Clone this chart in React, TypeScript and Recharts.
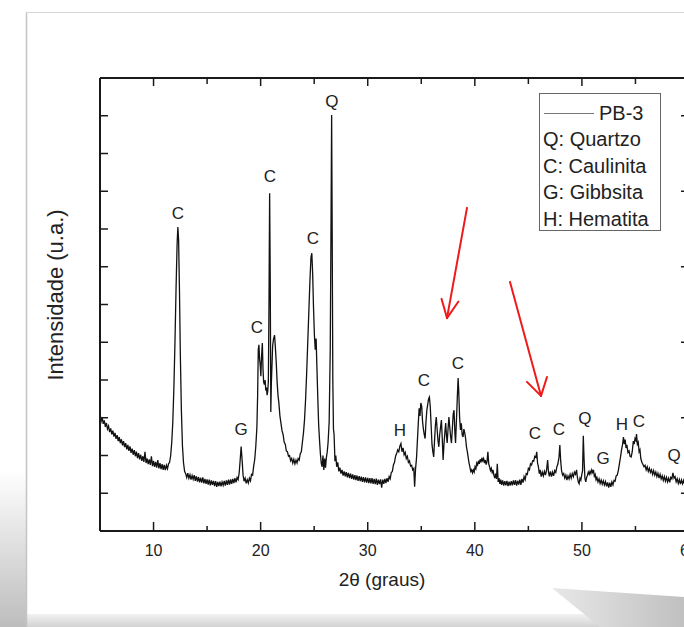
import React from 'react';
import { ComposedChart, Line, XAxis, YAxis, ReferenceLine, Scatter } from 'recharts';

// 2θ (degrees), intensity (arbitrary units)
const segLowAngle: [number, number][] = [
  [5.0, 3.0], [5.1, 2.9], [5.2, 3.02], [5.3, 2.84], [5.4, 2.93], [5.5, 2.76], [5.6, 2.86], [5.7, 2.7], [5.8, 2.78], [5.9, 2.62],
  [6.0, 2.72], [6.1, 2.56], [6.2, 2.66], [6.3, 2.5], [6.4, 2.6], [6.5, 2.44], [6.6, 2.54], [6.7, 2.38], [6.8, 2.49], [6.9, 2.33],
  [7.0, 2.43], [7.1, 2.27], [7.2, 2.38], [7.3, 2.22], [7.4, 2.33], [7.5, 2.16], [7.6, 2.28], [7.7, 2.12], [7.8, 2.24], [7.9, 2.07],
  [8.0, 2.18], [8.1, 2.02], [8.2, 2.14], [8.3, 1.98], [8.4, 2.1], [8.5, 1.93], [8.6, 2.06], [8.7, 1.9], [8.8, 2.02], [8.9, 1.86],
  [9.0, 1.98], [9.1, 1.83], [9.2, 2.1], [9.3, 1.8], [9.4, 1.92], [9.5, 1.77], [9.6, 1.9], [9.7, 1.75], [9.8, 1.98], [9.9, 1.72],
  [10.0, 1.86], [10.1, 1.7], [10.2, 1.83], [10.3, 1.68], [10.4, 1.88], [10.5, 1.66], [10.6, 1.8], [10.7, 1.64], [10.8, 1.77], [10.9, 1.62],
  [11.0, 1.75], [11.1, 1.61], [11.2, 1.74], [11.3, 1.65], [11.4, 1.78], [11.5, 1.82],
];
const segKaolinite12: [number, number][] = [
  [11.6, 2.0], [11.7, 2.35], [11.8, 2.9], [11.9, 3.8], [12.0, 5.0], [12.1, 6.4], [12.2, 7.6], [12.27, 8.05], [12.34, 7.7],
  [12.42, 6.4], [12.5, 4.7], [12.6, 3.2], [12.7, 2.25], [12.8, 1.8], [12.9, 1.58], [13.0, 1.52],
];
const segFlat13to19: [number, number][] = [
  [13.1, 1.42], [13.2, 1.53], [13.3, 1.4], [13.4, 1.49], [13.5, 1.36], [13.6, 1.47], [13.7, 1.37], [13.8, 1.48], [13.9, 1.33],
  [14.0, 1.45], [14.1, 1.31], [14.2, 1.43], [14.3, 1.29], [14.4, 1.41], [14.5, 1.28], [14.6, 1.42], [14.7, 1.26], [14.8, 1.38], [14.9, 1.25],
  [15.0, 1.37], [15.1, 1.23], [15.2, 1.36], [15.3, 1.21], [15.4, 1.34], [15.5, 1.22], [15.6, 1.33], [15.7, 1.19], [15.8, 1.32], [15.9, 1.17],
  [16.0, 1.3], [16.1, 1.19], [16.2, 1.31], [16.3, 1.18], [16.4, 1.3], [16.5, 1.21], [16.6, 1.33], [16.7, 1.2], [16.8, 1.34], [16.9, 1.22],
  [17.0, 1.36], [17.1, 1.23], [17.2, 1.37], [17.3, 1.25], [17.4, 1.38], [17.5, 1.27], [17.6, 1.4], [17.7, 1.29], [17.8, 1.42], [17.9, 1.36],
  [18.0, 1.55], [18.1, 1.92], [18.18, 2.24], [18.27, 1.88], [18.36, 1.48], [18.45, 1.32], [18.55, 1.4], [18.65, 1.26], [18.75, 1.36],
  [18.85, 1.27], [18.95, 1.4], [19.05, 1.33], [19.15, 1.5], [19.25, 1.48], [19.35, 1.72], [19.45, 1.9], [19.55, 2.25], [19.65, 2.75],
];
const segKaolinite20to25: [number, number][] = [
  [19.72, 3.6], [19.78, 4.8], [19.84, 4.93], [19.9, 4.55], [19.96, 4.4], [20.02, 4.1], [20.08, 4.6], [20.16, 4.98], [20.22, 4.3],
  [20.28, 3.95], [20.35, 3.88], [20.42, 4.0], [20.48, 3.72], [20.55, 3.8], [20.6, 3.6], [20.66, 3.7], [20.72, 3.95], [20.78, 6.0],
  [20.84, 8.95], [20.9, 6.5], [20.95, 3.15], [21.0, 3.9], [21.06, 4.4], [21.12, 4.9], [21.2, 5.08], [21.3, 5.19], [21.38, 4.85],
  [21.46, 4.45], [21.54, 3.95], [21.62, 3.6], [21.7, 3.4], [21.8, 3.05], [21.9, 2.85], [22.0, 2.65], [22.1, 2.55], [22.2, 2.35],
  [22.3, 2.3], [22.4, 2.12], [22.5, 2.1], [22.6, 1.98], [22.7, 2.0], [22.8, 1.86], [22.9, 1.92], [23.0, 1.8], [23.1, 1.9], [23.2, 1.78],
  [23.3, 1.88], [23.4, 1.8], [23.5, 1.92], [23.6, 1.88], [23.7, 2.05], [23.8, 2.1], [23.9, 2.35], [24.0, 2.6], [24.1, 2.95], [24.2, 3.5],
  [24.3, 4.2], [24.4, 5.0], [24.5, 5.8], [24.6, 6.6], [24.7, 7.25], [24.78, 7.36], [24.86, 6.8], [24.94, 5.9], [25.02, 5.2], [25.1, 4.8],
  [25.18, 5.1], [25.26, 4.3], [25.34, 3.5], [25.42, 2.8], [25.5, 2.4], [25.58, 2.05], [25.66, 1.8], [25.74, 1.7], [25.82, 2.0],
  [25.9, 1.62], [25.98, 1.92], [26.06, 1.68], [26.14, 1.95], [26.22, 2.1], [26.3, 2.35], [26.4, 2.9],
];
const segQuartz26: [number, number][] = [
  [26.5, 4.8], [26.58, 8.5], [26.63, 11.02], [26.68, 8.0], [26.74, 4.0], [26.8, 2.7], [26.86, 2.55], [26.94, 1.85], [27.02, 2.0],
];
const segFlat27to34: [number, number][] = [
  [27.1, 1.7], [27.2, 1.82], [27.3, 1.58], [27.4, 1.68], [27.5, 1.52], [27.6, 1.62], [27.7, 1.47], [27.8, 1.58], [27.9, 1.45],
  [28.0, 1.56], [28.1, 1.42], [28.2, 1.54], [28.3, 1.4], [28.4, 1.52], [28.5, 1.38], [28.6, 1.5], [28.7, 1.36], [28.8, 1.48], [28.9, 1.35],
  [29.0, 1.47], [29.1, 1.33], [29.2, 1.45], [29.3, 1.32], [29.4, 1.44], [29.5, 1.3], [29.6, 1.43], [29.7, 1.29], [29.8, 1.42], [29.9, 1.28],
  [30.0, 1.41], [30.1, 1.27], [30.2, 1.4], [30.3, 1.26], [30.4, 1.4], [30.5, 1.25], [30.6, 1.38], [30.7, 1.24], [30.8, 1.39], [30.9, 1.22],
  [31.0, 1.36], [31.1, 1.24], [31.2, 1.37], [31.3, 1.15], [31.4, 1.36], [31.5, 1.25], [31.6, 1.38], [31.7, 1.27], [31.8, 1.4], [31.9, 1.3],
  [32.0, 1.44], [32.1, 1.38], [32.2, 1.55], [32.3, 1.58], [32.4, 1.75], [32.5, 1.82], [32.6, 1.98], [32.7, 2.05], [32.8, 2.15], [32.9, 2.1],
  [33.0, 2.25], [33.1, 2.32], [33.2, 2.1], [33.3, 2.2], [33.4, 2.02], [33.5, 2.08], [33.6, 1.92], [33.7, 1.98], [33.8, 1.82], [33.9, 1.86],
  [34.0, 1.72], [34.1, 1.74], [34.2, 1.62], [34.3, 1.66], [34.38, 1.17], [34.46, 1.62], [34.56, 1.95],
];
const segKaolinite35to39: [number, number][] = [
  [34.64, 2.4], [34.72, 2.85], [34.8, 3.25], [34.88, 3.05], [34.96, 3.39], [35.04, 3.3], [35.12, 2.9], [35.2, 2.7], [35.28, 2.55],
  [35.36, 2.45], [35.44, 2.9], [35.52, 3.2], [35.6, 3.35], [35.68, 3.5], [35.76, 3.55], [35.84, 3.3], [35.92, 2.8], [36.0, 2.3],
  [36.08, 2.1], [36.16, 1.96], [36.24, 2.4], [36.32, 2.8], [36.4, 3.02], [36.48, 2.7], [36.56, 2.4], [36.64, 2.23], [36.72, 2.55],
  [36.8, 2.75], [36.88, 2.94], [36.96, 2.45], [37.04, 1.88], [37.12, 2.3], [37.2, 2.6], [37.28, 2.86], [37.36, 2.5], [37.42, 2.33],
  [37.5, 2.7], [37.58, 3.02], [37.66, 2.75], [37.74, 2.5], [37.82, 2.33], [37.9, 2.7], [37.98, 3.1], [38.06, 3.2], [38.14, 2.6],
  [38.2, 2.33], [38.28, 2.9], [38.36, 3.5], [38.44, 4.05], [38.5, 3.7], [38.58, 3.0], [38.66, 2.68], [38.74, 2.85], [38.82, 2.55],
  [38.9, 2.49], [38.98, 2.7], [39.06, 2.6], [39.14, 2.45], [39.22, 2.23], [39.3, 2.1], [39.38, 1.95], [39.46, 1.8], [39.54, 1.7],
];
const segMid40to45: [number, number][] = [
  [39.62, 1.58], [39.7, 1.62], [39.78, 1.54], [39.86, 1.62], [39.94, 1.56], [40.02, 1.7], [40.1, 1.65], [40.18, 1.8], [40.26, 1.75],
  [40.34, 1.86], [40.42, 1.78], [40.5, 1.9], [40.58, 1.82], [40.66, 1.94], [40.74, 1.86], [40.82, 1.92], [40.9, 1.8], [40.98, 1.88],
  [41.06, 1.76], [41.14, 1.84], [41.22, 2.1], [41.3, 1.78], [41.38, 1.7], [41.46, 1.6], [41.54, 1.66], [41.62, 1.55], [41.7, 1.62],
  [41.78, 1.48], [41.86, 1.4], [41.94, 1.52], [42.02, 1.38], [42.1, 1.78], [42.18, 1.3], [42.26, 1.4], [42.34, 1.25], [42.42, 1.36],
  [42.5, 1.22], [42.6, 1.34], [42.7, 1.2], [42.8, 1.32], [42.9, 1.21], [43.0, 1.33], [43.1, 1.19], [43.2, 1.31], [43.3, 1.2],
  [43.4, 1.32], [43.5, 1.21], [43.6, 1.34], [43.7, 1.22], [43.8, 1.35], [43.9, 1.2], [44.0, 1.33], [44.1, 1.23], [44.2, 1.36],
  [44.3, 1.22], [44.4, 1.38], [44.5, 1.28], [44.6, 1.44], [44.7, 1.36], [44.8, 1.52], [44.9, 1.5], [45.0, 1.66], [45.1, 1.62],
];
const segHigh45to53: [number, number][] = [
  [45.2, 1.78], [45.3, 1.75], [45.4, 1.86], [45.5, 1.85], [45.6, 1.98], [45.7, 1.95], [45.78, 2.1], [45.86, 1.8], [45.94, 1.7],
  [46.02, 1.52], [46.1, 1.62], [46.2, 1.44], [46.3, 1.56], [46.4, 1.46], [46.5, 1.58], [46.6, 1.48], [46.7, 1.62], [46.8, 1.88],
  [46.88, 1.55], [46.96, 1.45], [47.06, 1.58], [47.16, 1.44], [47.26, 1.56], [47.36, 1.46], [47.46, 1.6], [47.56, 1.55], [47.66, 1.7],
  [47.76, 1.78], [47.86, 1.95], [47.94, 2.28], [48.02, 1.85], [48.1, 1.6], [48.2, 1.48], [48.3, 1.52], [48.4, 1.4], [48.5, 1.48],
  [48.6, 1.35], [48.7, 1.46], [48.8, 1.38], [48.9, 1.5], [49.0, 1.4], [49.1, 1.52], [49.2, 1.44], [49.3, 1.56], [49.4, 1.5], [49.5, 1.62],
  [49.58, 1.42], [49.66, 1.3], [49.74, 1.25], [49.82, 1.4], [49.9, 1.35], [49.98, 1.48], [50.06, 1.6], [50.13, 2.52], [50.2, 1.9],
  [50.28, 1.4], [50.36, 1.3], [50.44, 1.42], [50.52, 1.48], [50.6, 1.56], [50.68, 1.5], [50.76, 1.58], [50.84, 1.52], [50.92, 1.62],
  [51.0, 1.55], [51.08, 1.62], [51.16, 1.45], [51.24, 1.5], [51.32, 1.36], [51.4, 1.42], [51.5, 1.3], [51.6, 1.38], [51.7, 1.26],
  [51.8, 1.35], [51.9, 1.24], [52.0, 1.33], [52.1, 1.22], [52.2, 1.31], [52.3, 1.18], [52.4, 1.29], [52.5, 1.15], [52.6, 1.28],
  [52.7, 1.17], [52.8, 1.3], [52.9, 1.22], [53.0, 1.34],
];
const segTail53to60: [number, number][] = [
  [53.1, 1.32], [53.2, 1.46], [53.3, 1.48], [53.4, 1.6], [53.5, 1.78], [53.6, 1.95], [53.7, 2.15], [53.8, 2.3], [53.88, 2.49],
  [53.96, 2.3], [54.04, 2.42], [54.12, 2.2], [54.2, 2.28], [54.3, 2.08], [54.4, 2.12], [54.5, 1.98], [54.6, 1.96], [54.7, 2.1],
  [54.8, 2.38], [54.88, 2.3], [54.96, 2.45], [55.04, 2.4], [55.1, 2.57], [55.18, 2.3], [55.26, 2.35], [55.34, 2.1], [55.42, 2.15],
  [55.5, 1.92], [55.6, 1.82], [55.7, 1.76], [55.8, 1.7], [55.9, 1.74], [56.0, 1.62], [56.1, 1.7], [56.2, 1.58], [56.3, 1.66],
  [56.4, 1.55], [56.5, 1.62], [56.6, 1.5], [56.7, 1.6], [56.8, 1.48], [56.9, 1.56], [57.0, 1.44], [57.1, 1.53], [57.2, 1.4],
  [57.3, 1.5], [57.4, 1.38], [57.5, 1.46], [57.6, 1.34], [57.7, 1.44], [57.8, 1.32], [57.9, 1.42], [58.0, 1.3], [58.1, 1.4],
  [58.2, 1.29], [58.3, 1.42], [58.4, 1.38], [58.5, 1.54], [58.6, 1.4], [58.7, 1.44], [58.8, 1.3], [58.9, 1.38], [59.0, 1.26],
  [59.1, 1.36], [59.2, 1.24], [59.3, 1.35], [59.4, 1.25], [59.5, 1.34], [59.6, 1.23], [59.7, 1.33], [59.8, 1.24], [59.9, 1.32], [60.0, 1.26],
];

// Phase letters (position of each letter in chart units)
const peakLetters: [number, number, string][] = [
  [12.28, 8.4, 'C'], [18.17, 2.7, 'G'], [19.66, 5.38, 'C'], [20.87, 9.38, 'C'], [24.89, 7.76, 'C'], [26.66, 11.39, 'Q'],
  [33.01, 2.65, 'H'], [35.25, 4.0, 'C'], [38.43, 4.45, 'C'], [45.62, 2.57, 'C'], [47.86, 2.68, 'C'], [50.28, 2.99, 'Q'],
  [51.97, 1.91, 'G'], [53.74, 2.81, 'H'], [55.33, 2.89, 'C'], [58.6, 1.99, 'Q'],
];

// Red arrows: [x1, y1, x2, y2] segments in chart units
const arrowSegments: [number, number, number, number][] = [
  [39.27, 8.56, 37.4, 5.64], [36.89, 6.15, 37.4, 5.64], [38.47, 6.08, 37.4, 5.64],
  [43.28, 6.6, 46.18, 3.58], [44.87, 3.95, 46.18, 3.58], [46.74, 4.08, 46.18, 3.58],
];

const xTicks = [10, 15, 20, 25, 30, 35, 40, 45, 50, 55, 60];
const yTicksLeft = [1, 2, 3, 4, 5, 6, 7, 8, 9, 10, 11];
const yTicksRight = [1, 3, 5, 7, 9, 11];
const legendRows = ['Q: Quartzo', 'C: Caulinita', 'G: Gibbsita', 'H: Hematita'];
const seriesName = 'PB-3';

const spectrum = [
  ...segLowAngle, ...segKaolinite12, ...segFlat13to19, ...segKaolinite20to25, ...segQuartz26,
  ...segFlat27to34, ...segKaolinite35to39, ...segMid40to45, ...segHigh45to53, ...segTail53to60,
].map(([t, i]) => ({ t, i }));
const letterData = peakLetters.map(([t, i, txt]) => ({ t, i, txt }));

const FONT = '"Liberation Sans", Arial, Helvetica, sans-serif';
const INK = '#1a1a1a';

const BottomTick = (p: any) => {
  const { x, y, payload } = p;
  const major = payload.value % 10 === 0;
  return (
    <g>
      <line x1={x} x2={x} y1={y} y2={y - (major ? 9 : 5)} stroke={INK} strokeWidth={1.5} />
      {major && (
        <text x={x} y={y + 19} textAnchor="middle" dominantBaseline="central" fontSize={16} fill="#222" fontFamily={FONT}>
          {payload.value}
        </text>
      )}
    </g>
  );
};
const TopTick = (p: any) => {
  const { x, y, payload } = p;
  const major = payload.value % 10 === 0;
  return <line x1={x} x2={x} y1={y} y2={y + (major ? 8 : 6)} stroke={INK} strokeWidth={1.5} />;
};
const LeftTick = (p: any) => {
  const { x, y } = p;
  return <line x1={x} x2={x + 8} y1={y} y2={y} stroke={INK} strokeWidth={1.5} />;
};
const RightTick = (p: any) => {
  const { x, y } = p;
  return <line x1={x} x2={x - 8} y1={y} y2={y} stroke={INK} strokeWidth={1.5} />;
};
const LetterShape = (p: any) => (
  <text x={p.cx} y={p.cy} textAnchor="middle" dominantBaseline="central" fontSize={17} fill="#222" fontFamily={FONT}>
    {p.payload.txt}
  </text>
);

export default function App() {
  return (
    <div style={{ position: 'fixed', left: 0, top: 0, width: 684, height: 627, overflow: 'hidden', background: '#fff' }}>
      <svg width={684} height={627} style={{ position: 'absolute', left: 0, top: 0 }}>
        <defs>
          <linearGradient id="lsh" x1="0" y1="0" x2="0" y2="1">
            <stop offset="0" stopColor="#ffffff" />
            <stop offset="1" stopColor="#bdbdbd" />
          </linearGradient>
          <linearGradient id="bsh" x1="0" y1="0" x2="0" y2="1">
            <stop offset="0" stopColor="#f2f2f2" />
            <stop offset="1" stopColor="#d2d2d2" />
          </linearGradient>
          <linearGradient id="rsh" x1="0" y1="0" x2="1" y2="0">
            <stop offset="0" stopColor="#e8e8e8" />
            <stop offset="1" stopColor="#c0c0c0" />
          </linearGradient>
        </defs>
        <rect x={0} y={470} width={26} height={157} fill="url(#lsh)" />
        <rect x={26} y={614} width={658} height={13} fill="url(#bsh)" />
        <polygon points="552,588 684,597 684,627 600,627" fill="url(#rsh)" />
        <line x1={26.5} y1={12} x2={26.5} y2={627} stroke="#c4c4c4" strokeWidth={1.5} />
        <line x1={26} y1={12.5} x2={684} y2={12.5} stroke="#d6d6d6" strokeWidth={1} />
      </svg>

      <div style={{ position: 'absolute', left: 0, top: 0 }}>
        <ComposedChart width={720} height={627} data={spectrum} margin={{ top: 77, right: 30, bottom: 66, left: 99 }}>
          <XAxis
            dataKey="t" type="number" domain={[5, 60]} ticks={xTicks} interval={0} allowDataOverflow
            height={30} tickSize={0} tickMargin={0} tickLine={false} tick={<BottomTick />}
            axisLine={{ stroke: INK, strokeWidth: 2 }}
          />
          <XAxis
            xAxisId="top" orientation="top" dataKey="t" type="number" domain={[5, 60]} ticks={xTicks} interval={0}
            allowDataOverflow height={1} tickSize={0} tickMargin={0} tickLine={false} tick={<TopTick />}
            axisLine={{ stroke: INK, strokeWidth: 2 }}
          />
          <YAxis
            type="number" domain={[0, 12]} ticks={yTicksLeft} interval={0} allowDataOverflow width={1}
            tickSize={0} tickMargin={0} tickLine={false} tick={<LeftTick />} axisLine={{ stroke: INK, strokeWidth: 2 }}
          />
          <YAxis
            yAxisId="right" orientation="right" type="number" domain={[0, 12]} ticks={yTicksRight} interval={0}
            allowDataOverflow width={1} tickSize={0} tickMargin={0} tickLine={false} tick={<RightTick />}
            axisLine={{ stroke: INK, strokeWidth: 2 }}
          />
          <Line
            type="linear" dataKey="i" name={seriesName} stroke="#111" strokeWidth={1.3} dot={false}
            isAnimationActive={false}
          />
          <Scatter data={letterData} dataKey="i" shape={<LetterShape />} isAnimationActive={false} />
          {arrowSegments.map(([x1, y1, x2, y2], k) => (
            <ReferenceLine
              key={k}
              segment={[{ x: x1, y: y1 }, { x: x2, y: y2 }]}
              stroke="#ee1b1b"
              strokeWidth={2}
              strokeLinecap="round"
            />
          ))}
        </ComposedChart>
      </div>

      <svg width={30} height={240} style={{ position: 'absolute', left: 40, top: 175 }}>
        <text
          transform="translate(23,120) rotate(-90)" textAnchor="middle" fontSize={22} fill="#222" fontFamily={FONT}
        >
          Intensidade (u.a.)
        </text>
      </svg>

      <div
        style={{
          position: 'absolute', left: 382, top: 580, transform: 'translate(-50%, -50%)', fontFamily: FONT,
          fontSize: 19, color: '#222', whiteSpace: 'nowrap',
        }}
      >
        2θ (graus)
      </div>

      <div
        style={{
          position: 'absolute', left: 539, top: 93, width: 122, height: 138, border: '1px solid #666',
          background: '#fff', fontFamily: FONT, fontSize: 20, color: '#222', boxSizing: 'border-box',
        }}
      >
        <div style={{ position: 'absolute', left: 4, top: 19, width: 50, height: 1, background: '#777' }} />
        <div style={{ position: 'absolute', left: 59, top: 7, lineHeight: '24px' }}>{seriesName}</div>
        {legendRows.map((r, k) => (
          <div key={r} style={{ position: 'absolute', left: 3, top: 33 + k * 26.5, lineHeight: '24px', whiteSpace: 'nowrap' }}>
            {r}
          </div>
        ))}
      </div>
    </div>
  );
}
